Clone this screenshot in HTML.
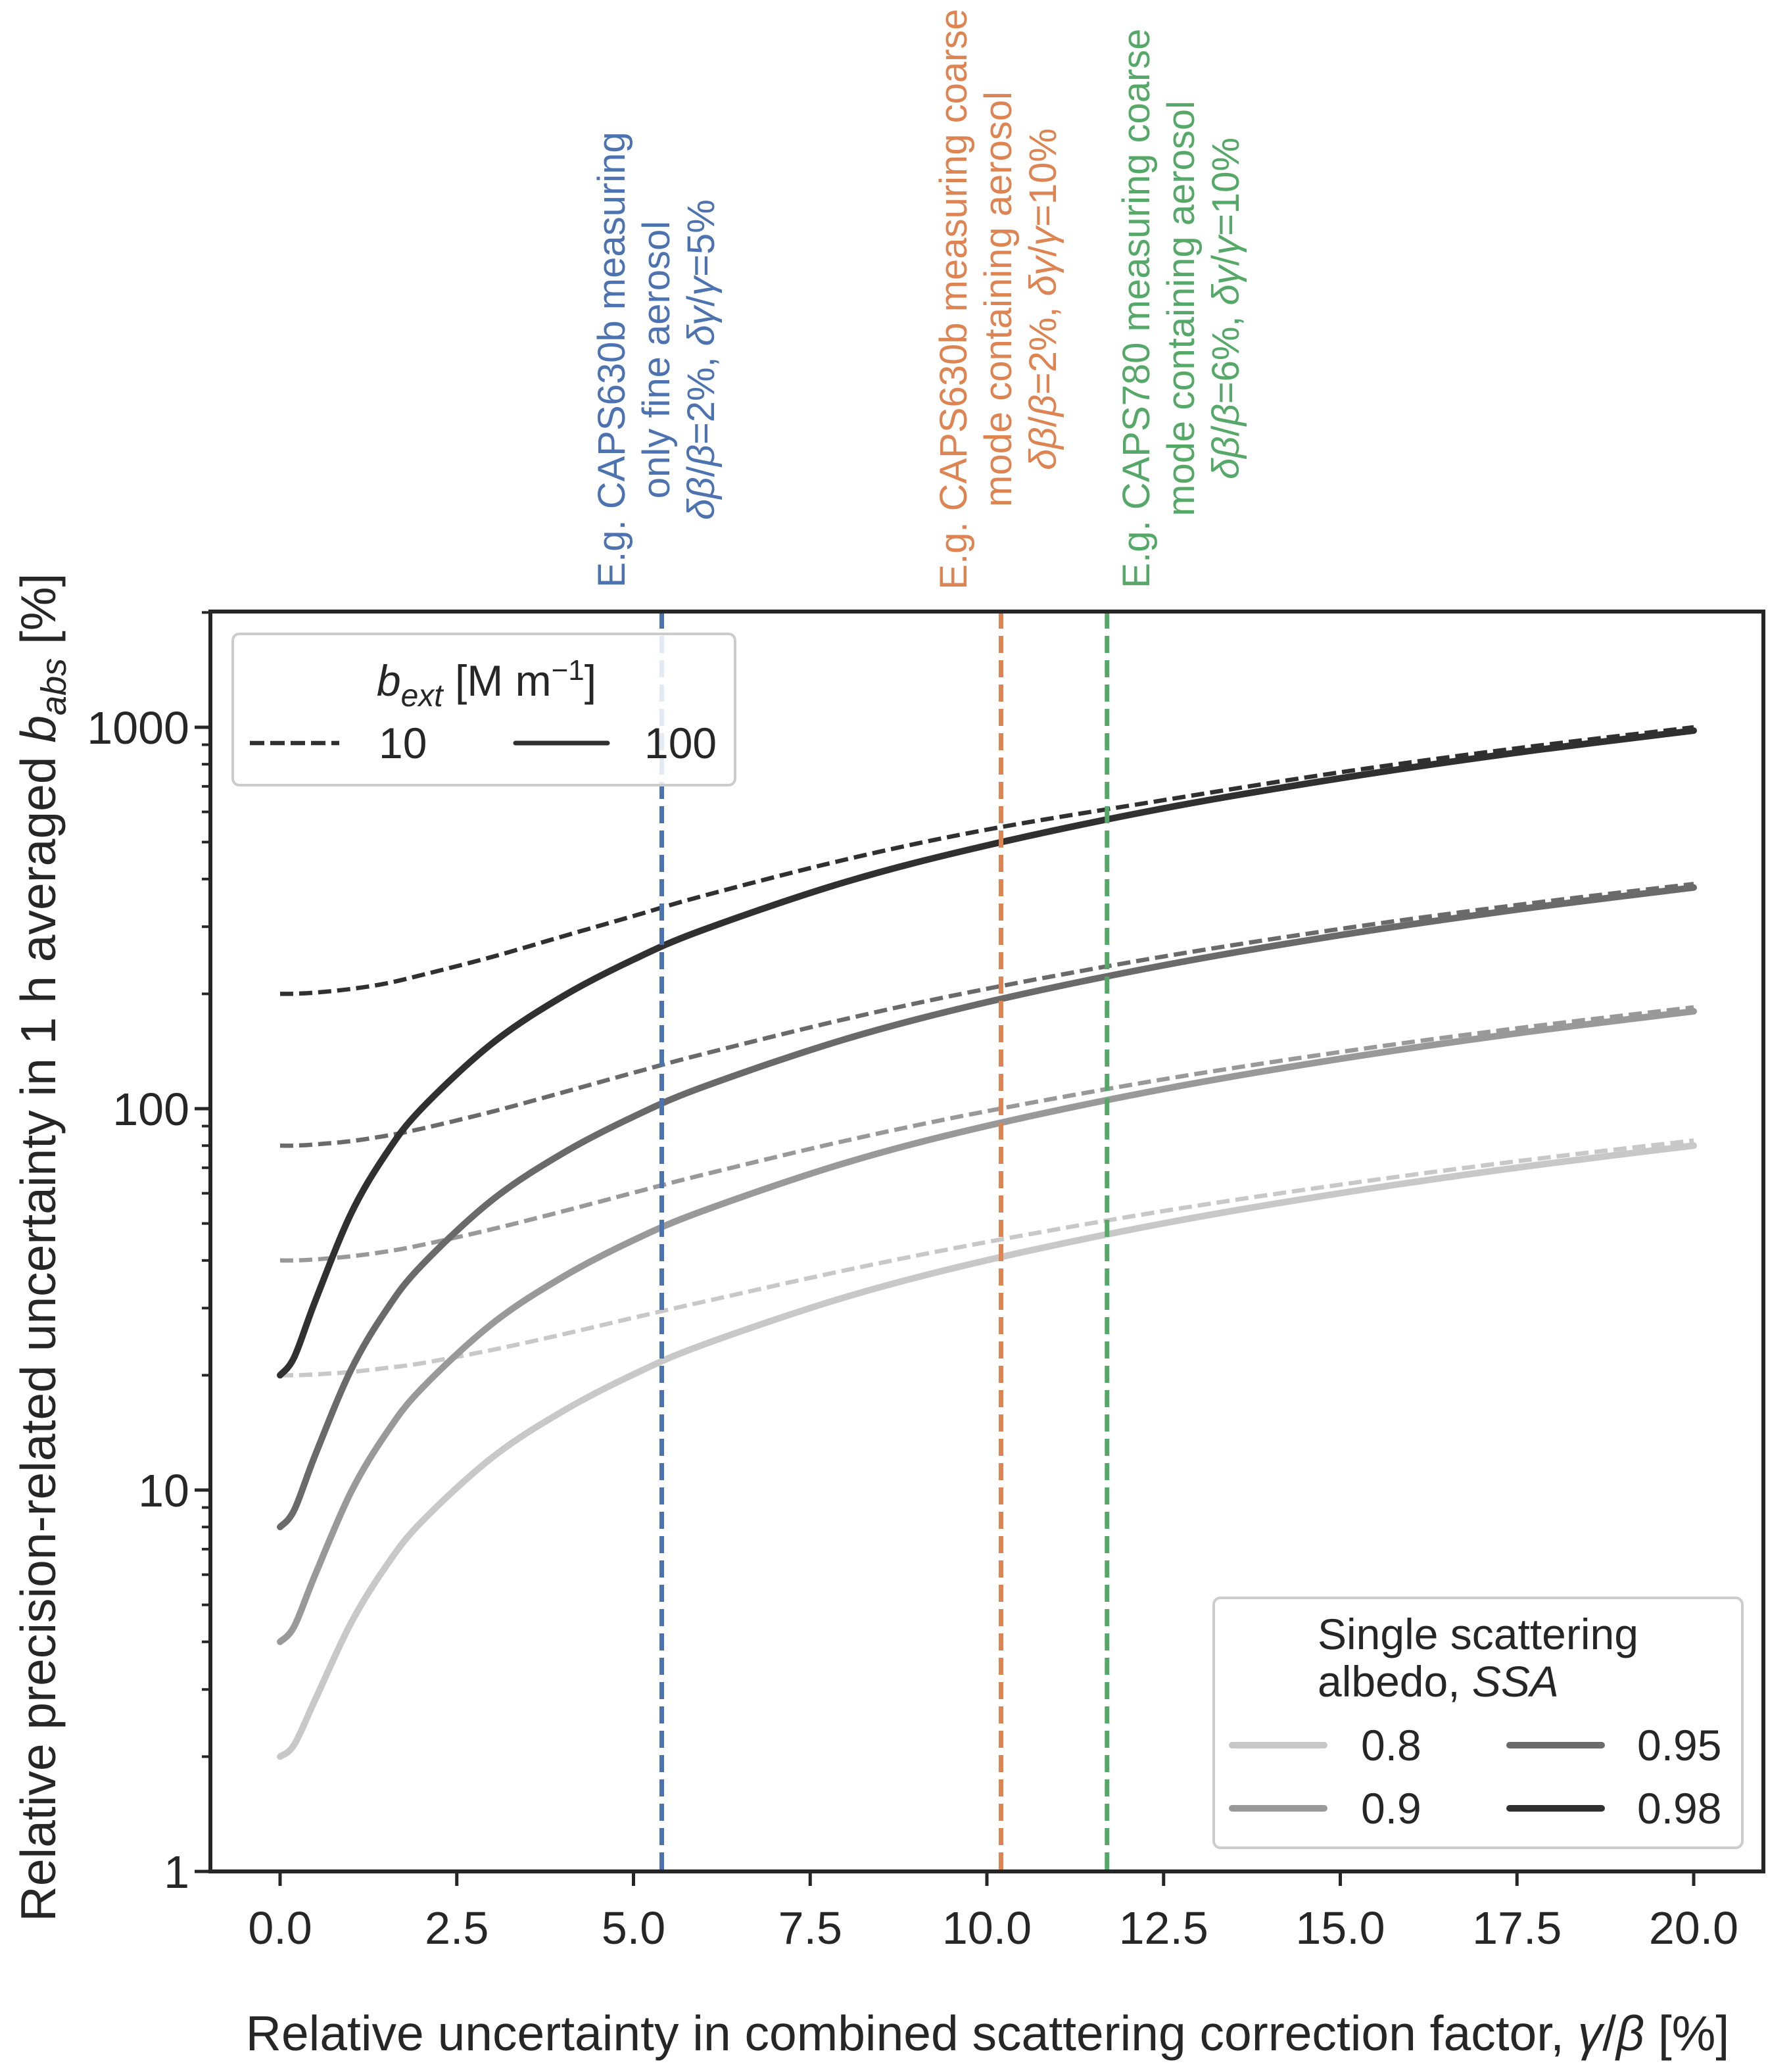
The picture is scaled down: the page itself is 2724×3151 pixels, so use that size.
<!DOCTYPE html>
<html><head><meta charset="utf-8"><style>
html,body{margin:0;padding:0;background:#fff;}
svg{display:block;font-family:"Liberation Sans","DejaVu Sans",sans-serif;}
</style></head><body>
<svg id="chart" width="2724" height="3151" viewBox="0 0 2724 3151" xmlns="http://www.w3.org/2000/svg">
<g id="plot"></g>
</svg>
<script>
const xValues = [0,0.2,0.5,1,1.5,2,3,4,5,6,8,10,12.5,15,17.5,20];
const ssaLabels = ["0.8","0.9","0.95","0.98"];
const ssaColors = ["#c8c8c8","#999999","#6a6a6a","#303030"];
const solid08 = [2,2.15,2.83,4.47,6.32,8.25,12.17,16.1,20.1,24.1,32.06,40.05,50.04,60.03,70.03,80.02];
const dashed08 = [20,20,20.1,20.4,20.9,21.5,23.3,25.6,28.3,31.2,37.7,44.7,53.9,63.2,72.8,82.5];
const solid09 = [4,4.39,6.02,9.85,14.07,18.44,27.3,36.2,45.2,54.1,72.1,90.1,112.6,135.1,157.6,180];
const dashed09 = [40,40,40.25,41,42.2,43.9,48.3,53.8,60.2,67.2,82.4,98.5,119.4,140.8,162.5,184.4];
const solid095 = [8,8.86,12.4,20.6,29.6,38.8,57.6,76.4,95.3,114.3,152.2,190.2,237.6,285.1,332.6,380.1];
const dashed095 = [80,80,80.6,82.2,84.9,88.6,98.2,110.3,124.2,139.3,171.8,206.2,250.6,296,342,388.3];
const solid098 = [20,22.3,31.4,52.9,76.2,100,148.3,197,246,295,393,490,613,735,858,980];
const dashed098 = [200,200.2,201.5,206,213,224,250,283,320,362,450,539,644,762,881,1000];
const xTicks = [0,2.5,5,7.5,10,12.5,15,17.5,20];
const xTickLabels = ["0.0","2.5","5.0","7.5","10.0","12.5","15.0","17.5","20.0"];
const yTicks = [1,10,100,1000];
const yTickLabels = ["1","10","100","1000"];
const refLines = [5.4,10.2,11.7];
const refColors = ["#4c72b0","#dd8452","#55a868"];

const L=320,R=2682,T=930,B=2846;
const X0=426, XPU=107.5;
function xs(v){return X0+v*XPU;}
function ys(v){return 2846-Math.log10(v)*580;}
const NS="http://www.w3.org/2000/svg";
const g=document.getElementById('plot');
function mk(tag,attrs,parent){const e=document.createElementNS(NS,tag);for(const k in attrs)e.setAttribute(k,attrs[k]);(parent||g).appendChild(e);return e;}
function path(xa,ya){
  const p=xa.map((x,i)=>[xs(x),ys(ya[i])]);
  let d="M"+p[0][0]+","+p[0][1];
  for(let i=0;i<p.length-1;i++){
    const p0=p[i-1]||p[i],p1=p[i],p2=p[i+1],p3=p[i+2]||p2;
    const c1x=p1[0]+(p2[0]-p0[0])/6,c1y=p1[1]+(p2[1]-p0[1])/6;
    const c2x=p2[0]-(p3[0]-p1[0])/6,c2y=p2[1]-(p3[1]-p1[1])/6;
    d+=" C"+c1x+","+c1y+" "+c2x+","+c2y+" "+p2[0]+","+p2[1];
  }
  return d;
}
const defs=mk('defs',{});
const cp=mk('clipPath',{id:'clip'},defs);
mk('rect',{x:L,y:T,width:R-L,height:B-T},cp);
const dg=mk('g',{'clip-path':'url(#clip)'});
const solids=[solid08,solid09,solid095,solid098];
const dashes=[dashed08,dashed09,dashed095,dashed098];
for(let s=0;s<4;s++){
  const e=mk('path',{d:path(xValues,dashes[s]),fill:'none',stroke:ssaColors[s],'stroke-width':6.5,'stroke-dasharray':'20 9'},dg);
  
  
}
for(let s=0;s<4;s++){
  const e=mk('path',{d:path(xValues,solids[s]),fill:'none',stroke:ssaColors[s],'stroke-width':10,'stroke-linecap':'round'},dg);
  
  
}
for(let i=0;i<refLines.length;i++){
  const e=mk('line',{x1:xs(refLines[i]),x2:xs(refLines[i]),y1:T,y2:B,stroke:refColors[i],'stroke-width':7,'stroke-dasharray':'26 11'},dg);
  
  
}
const fr=mk('rect',{x:L,y:T,width:R-L,height:B-T,fill:'none',stroke:'#262626','stroke-width':6});


xTicks.forEach((t,i)=>{
  mk('line',{x1:xs(t),x2:xs(t),y1:B,y2:B+22,stroke:'#262626','stroke-width':5});
  const e=mk('text',{x:xs(t),y:2956,'text-anchor':'middle','font-size':70,fill:'#262626'});
  e.textContent=xTickLabels[i];
  
  
});
yTicks.forEach((t,i)=>{
  mk('line',{x1:L,x2:L-24,y1:ys(t),y2:ys(t),stroke:'#262626','stroke-width':5});
  const e=mk('text',{x:288,y:ys(t)+25,'text-anchor':'end','font-size':70,fill:'#262626'});
  e.textContent=yTickLabels[i];
  
  
});
for(let dec=1;dec<=1000;dec*=10){for(let m=2;m<=9;m++){const v=dec*m;const y=ys(v);if(y<T)continue;mk('line',{x1:L,x2:L-13,y1:y,y2:y,stroke:'#262626','stroke-width':4});}}
</script>
<svg style="position:absolute;left:0;top:0" width="2724" height="3151" xmlns="http://www.w3.org/2000/svg" font-family="Liberation Sans, DejaVu Sans, sans-serif">
<text x="1502" y="3118" text-anchor="middle" font-size="75" fill="#262626">Relative uncertainty in combined scattering correction factor, <tspan font-style="italic">γ</tspan>/<tspan font-style="italic">β</tspan> [%]</text>
<text transform="translate(84,1897) rotate(-90)" text-anchor="middle" font-size="75" fill="#262626">Relative precision-related uncertainty in 1 h averaged <tspan font-style="italic">b</tspan><tspan font-style="italic" font-size="54" dy="16">abs</tspan><tspan dy="-16"> [%]</tspan></text>
<g fill="#4c72b0" font-size="58" text-anchor="middle">
<text transform="translate(950,547) rotate(-90)">E.g. CAPS630b measuring</text>
<text transform="translate(1018,547) rotate(-90)">only fine aerosol</text>
<text transform="translate(1086,547) rotate(-90)"><tspan font-style="italic">δβ</tspan>/<tspan font-style="italic">β</tspan>=2%, <tspan font-style="italic">δγ</tspan>/<tspan font-style="italic">γ</tspan>=5%</text>
</g>
<g fill="#dd8452" font-size="58" text-anchor="middle">
<text transform="translate(1470,455) rotate(-90)">E.g. CAPS630b measuring coarse</text>
<text transform="translate(1538,455) rotate(-90)">mode containing aerosol</text>
<text transform="translate(1606,455) rotate(-90)"><tspan font-style="italic">δβ</tspan>/<tspan font-style="italic">β</tspan>=2%, <tspan font-style="italic">δγ</tspan>/<tspan font-style="italic">γ</tspan>=10%</text>
</g>
<g fill="#55a868" font-size="58" text-anchor="middle">
<text transform="translate(1748,469) rotate(-90)">E.g. CAPS780 measuring coarse</text>
<text transform="translate(1816,469) rotate(-90)">mode containing aerosol</text>
<text transform="translate(1884,469) rotate(-90)"><tspan font-style="italic">δβ</tspan>/<tspan font-style="italic">β</tspan>=6%, <tspan font-style="italic">δγ</tspan>/<tspan font-style="italic">γ</tspan>=10%</text>
</g>
<g>
<rect x="354" y="964" width="764" height="230" rx="10" fill="#fff" fill-opacity="0.85" stroke="#cccccc" stroke-width="4"/>
<text x="740" y="1058" text-anchor="middle" font-size="66" fill="#262626"><tspan font-style="italic">b</tspan><tspan font-style="italic" font-size="48" dy="16">ext</tspan><tspan dy="-16"> [M m</tspan><tspan font-size="44" dy="-24">−1</tspan><tspan dy="24">]</tspan></text>
<line x1="380" x2="516" y1="1130" y2="1130" stroke="#303030" stroke-width="6.5" stroke-dasharray="22 9"/>
<text x="576" y="1153" font-size="66" fill="#262626">10</text>
<line x1="784" x2="924" y1="1130" y2="1130" stroke="#303030" stroke-width="7" stroke-linecap="round"/>
<text x="980" y="1153" font-size="66" fill="#262626">100</text>
</g>
<g>
<rect x="1846" y="2430" width="804" height="380" rx="10" fill="#fff" fill-opacity="0.85" stroke="#cccccc" stroke-width="4"/>
<text x="2004" y="2508" font-size="66" fill="#262626">Single scattering</text>
<text x="2004" y="2580" font-size="66" fill="#262626">albedo, <tspan font-style="italic">SSA</tspan></text>
<line x1="1874" x2="2014" y1="2654" y2="2654" stroke="#c8c8c8" stroke-width="10" stroke-linecap="round"/>
<text x="2070" y="2677" font-size="66" fill="#262626">0.8</text>
<line x1="1874" x2="2014" y1="2750" y2="2750" stroke="#999999" stroke-width="10" stroke-linecap="round"/>
<text x="2070" y="2773" font-size="66" fill="#262626">0.9</text>
<line x1="2296" x2="2436" y1="2654" y2="2654" stroke="#6a6a6a" stroke-width="10" stroke-linecap="round"/>
<text x="2490" y="2677" font-size="66" fill="#262626">0.95</text>
<line x1="2296" x2="2436" y1="2750" y2="2750" stroke="#303030" stroke-width="10" stroke-linecap="round"/>
<text x="2490" y="2773" font-size="66" fill="#262626">0.98</text>
</g>
</svg>
</body></html>
